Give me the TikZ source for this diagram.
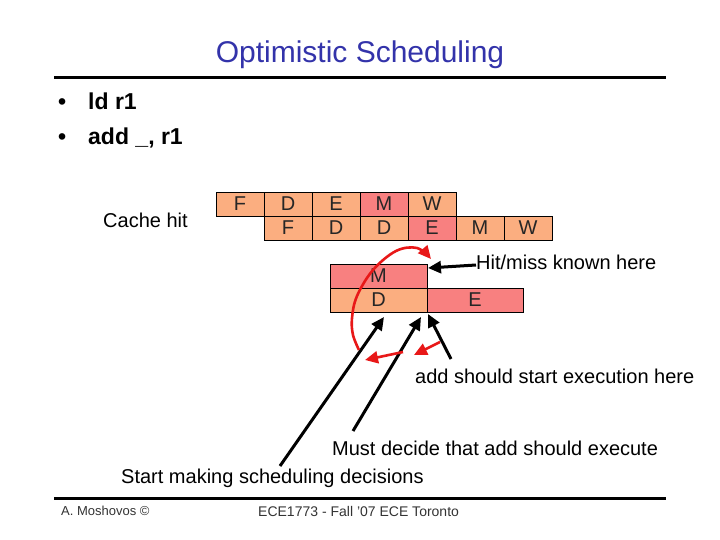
\documentclass[tikz,border=0pt]{standalone}
\usepackage{fontspec}
\setmainfont{Liberation Sans}
\usetikzlibrary{arrows.meta}
\definecolor{stageor}{HTML}{FBAE80}
\definecolor{stagepk}{HTML}{F88080}
\definecolor{titleblue}{HTML}{3333AA}
\definecolor{redarr}{HTML}{E81818}
\tikzset{
  stagebox/.style={draw=black, line width=0.6pt, fill=stageor, minimum width=48pt, minimum height=24pt, inner sep=0pt, font=\fontsize{20}{22}\selectfont, text=black!85},
  hotbox/.style={stagebox, fill=stagepk},
  lbl/.style={font=\fontsize{20}{22}\selectfont, inner sep=0pt, anchor=west},
  bul/.style={font=\fontsize{23}{25}\selectfont\bfseries, inner sep=0pt, anchor=base west},
  blackarrow/.style={line width=3pt, -{Triangle[length=13pt,width=12pt]}},
  redarrow/.style={line width=2.6pt, redarr, -{Triangle[length=13pt,width=12pt]}},
  rule/.style={line width=3pt},
  foot/.style={font=\fontsize{13}{15}\selectfont, inner sep=0pt, anchor=west, text=black!80}
}
\begin{document}
\begin{tikzpicture}[x=1pt,y=-1pt]
\useasboundingbox (0,0) rectangle (720,540);
\fill[white] (0,0) rectangle (720,540);
% title
\node[font=\fontsize{30}{34}\selectfont, text=titleblue, inner sep=0pt] (title) at (360,55) {Optimistic Scheduling};
\coordinate (t1) at (54,78); \coordinate (t2) at (666,78);
\draw[rule] (t1) -- (t2);
% bullets
\node[bul] (d1) at (58,110) {\textbullet};
\node[bul] (b1) at (88,110) {ld r1};
\node[bul] (d2) at (58,145) {\textbullet};
\node[bul] (b2) at (88,145) {add \_, r1};
\node[lbl] (cache) at (103,220) {Cache hit};
% pipeline row 1
\node[stagebox] (r1a) at (240,204) {F};
\node[stagebox] (r1b) at (288,204) {D};
\node[stagebox] (r1c) at (336,204) {E};
\node[hotbox]   (r1d) at (384,204) {M};
\node[stagebox] (r1e) at (432,204) {W};
% row 2
\node[stagebox] (r2a) at (288,228) {F};
\node[stagebox] (r2b) at (336,228) {D};
\node[stagebox] (r2c) at (384,228) {D};
\node[hotbox]   (r2d) at (432,228) {E};
\node[stagebox] (r2e) at (480,228) {M};
\node[stagebox] (r2f) at (528,228) {W};
% lower block
\node[hotbox, minimum width=97pt] (lm) at (378.5,276) {M};
\node[stagebox, minimum width=97pt] (ld) at (378.5,300) {D};
\node[hotbox, minimum width=96pt] (le) at (475,300) {E};
% labels
\node[lbl] (hit) at (476,262) {Hit/miss known here};
\node[lbl] (addl) at (415,376) {add should start execution here};
\node[lbl] (must) at (332,448) {Must decide that add should execute};
\node[lbl] (start) at (121,478) {Start making scheduling decisions};
% arrow endpoints
\coordinate (hitend) at (428,268);
\coordinate (addend) at (428,314);
\coordinate (mustend) at (421,317);
\coordinate (startend) at (384,317);
\coordinate (adds) at (451,359);
\coordinate (musts) at (353,431);
\coordinate (starts) at (280,466);
\coordinate (hits) at (476,265);
\draw[blackarrow] (hits) -- (hitend);
\draw[blackarrow] (adds) -- (addend);
\draw[blackarrow] (musts) -- (mustend);
\draw[blackarrow] (starts) -- (startend);
% red arrows
\draw[redarrow] plot[smooth, tension=0.6] coordinates {(359,350) (353,335) (352,318) (357,296) (373,270) (396,251) (417,248) (431,259)};
\coordinate (ra1) at (403,352); \coordinate (ra2) at (365,360);
\coordinate (rb1) at (440,342); \coordinate (rb2) at (414,355);
\draw[redarrow] (ra1) -- (ra2);
\draw[redarrow] (rb1) -- (rb2);
% footer
\coordinate (f1) at (54,498); \coordinate (f2) at (666,498);
\draw[rule] (f1) -- (f2);
\node[foot] (auth) at (61,511) {A. Moshovos \textcopyright};
\node[foot, font=\fontsize{14}{16}\selectfont] (course) at (258,511) {ECE1773 - Fall '07 ECE Toronto};
\end{tikzpicture}
\end{document}
